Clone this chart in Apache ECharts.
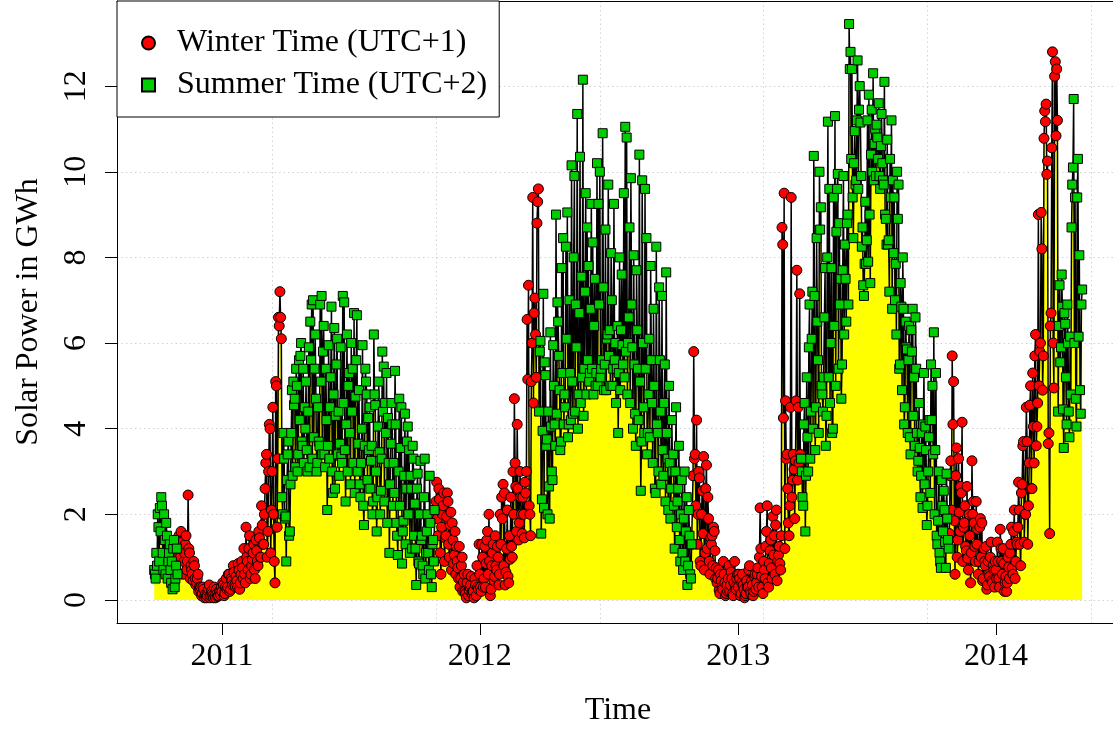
<!DOCTYPE html>
<html>
<head>
<meta charset="utf-8">
<script src="https://cdn.jsdelivr.net/npm/echarts@6/dist/echarts.min.js"></script>
<style>html,body{margin:0;padding:0;background:#fff}#chart{width:1113px;height:729px}</style>
</head>
<body>
<div id="chart"></div>
<script>
// ---- DATA: daily solar power in GWh, grouped by clock-time period ----
// "a" arrays hold days 0,2,4,... of each period, "b" arrays hold days 1,3,5,...
const seasonStart = ['2010-09-27','2010-10-31','2011-03-27','2011-10-30','2012-03-25','2012-10-28','2013-03-31','2013-10-27','2014-03-30'];
const seasonKind  = ['summer','winter','summer','winter','summer','winter','summer','winter','summer'];

const summer2010a = [0.7,0.5,0.8,1.7,2.15,2.4,1.1,2.0,0.6,1.5,0.9,1.3,0.4,0.25,1.4,0.5,1.2];
const summer2010b = [0.6,1.1,2.0,0.9,1.6,2.2,0.7,1.4,1.8,0.5,1.1,0.7,0.9,1.2,0.3,0.8,0.6];
const winter2010a = [1.0,
  1.4,1.6,1.2,0.9,1.3,0.7,2.45,1.1,0.8,0.6,0.9,0.5,0.4,0.6,0.3,
  0.3,0.15,0.25,0.1,0.05,0.2,0.35,0.1,0.15,0.05,0.1,0.25,0.08,0.2,0.12,
  0.2,0.35,0.15,0.5,0.3,0.6,0.25,0.45,0.8,0.35,0.55,0.3,0.7,0.4,0.9,0.5,
  0.6,1.7,0.9,1.2,0.5,0.8,1.1,0.7,1.4,0.9,1.6,1.0,2.2,1.3,
  2.0,3.2,1.0,3.0,4.0,2.1,4.5,0.9,5.1,1.7,6.6,7.2,6.1];
const winter2010b = [
  1.5,1.0,1.35,0.6,1.1,1.5,0.9,1.2,0.5,0.7,0.45,0.8,0.35,0.5,0.2,
  0.25,0.1,0.3,0.05,0.15,0.1,0.25,0.05,0.2,0.1,0.3,0.05,0.15,0.1,0.2,0.3,
  0.4,0.1,0.3,0.25,0.6,0.2,0.5,0.35,0.65,0.3,0.45,0.85,0.25,0.6,0.75,
  1.2,0.4,1.0,0.7,1.5,0.6,0.95,1.3,0.5,1.15,0.8,1.45,1.0,1.75,
  1.3,2.6,3.4,1.6,4.1,1.1,3.0,2.0,0.4,5.0,3.3,6.4,6.6];
const summer2011a = [2.4,3.9,1.9,
  0.9,3.4,1.5,2.7,4.9,5.1,4.7,5.4,3.0,5.6,5.7,3.7,5.4,4.5,5.1,
  3.0,5.9,6.5,6.9,7.0,5.4,4.7,3.2,3.7,6.9,7.1,5.8,3.4,5.4,2.1,
  5.95,4.5,6.85,2.5,6.35,4.3,6.1,4.4,3.65,3.35,7.1,6.95,2.3,6.2,5.0,
  3.9,6.0,5.4,6.7,4.75,6.65,3.65,2.7,3.2,5.95,1.75,5.4,4.8,4.25,4.5,3.25,
  2.0,6.2,4.55,1.6,4.05,3.45,2.55,5.8,5.45,4.6,5.3,4.25,1.1,3.65,4.1,
  3.2,5.35,1.8,1.05,4.7,3.55,0.85,1.85,4.35,2.6,4.05,3.5,2.9,1.2,3.3,
  2.25,0.35,2.95,0.85,3.25,1.5,0.6,3.3,1.1,2.0,0.7,1.8,0.3,1.4,2.1];
const summer2011b = [2.0,3.3,
  1.95,2.8,3.7,1.6,3.9,2.9,4.55,3.1,5.0,3.4,4.2,6.0,3.6,3.2,4.0,
  3.5,4.4,3.1,5.6,3.3,3.8,6.2,3.0,4.5,3.6,5.1,3.4,6.4,3.1,4.2,3.6,
  3.3,5.2,3.0,4.8,2.6,5.5,3.4,2.9,5.9,3.2,4.6,3.5,4.1,3.0,5.3,
  2.7,4.4,3.2,2.5,5.6,3.0,4.9,2.4,4.0,2.2,3.6,5.1,2.8,3.5,2.6,
  3.6,2.3,4.8,3.0,2.4,5.1,2.0,3.3,4.4,2.3,3.9,1.8,3.2,2.7,4.6,2.2,
  2.5,4.1,1.5,3.0,2.2,4.5,1.6,2.9,1.3,3.7,2.0,1.1,2.6,3.6,1.5,
  1.2,2.6,0.9,2.0,1.4,0.8,2.4,0.5,1.6,1.1,2.9,0.6,1.3,0.9];
const winter2011a = [1.9,
  2.75,1.5,2.35,0.6,2.0,2.5,1.45,1.95,2.3,1.0,2.05,1.8,0.85,1.6,1.25,
  0.75,1.25,0.5,1.0,0.42,0.2,0.05,0.6,0.23,0.35,0.15,0.2,0.5,0.1,0.3,1.3,
  0.3,1.3,0.3,1.25,0.85,1.6,2.0,0.1,0.8,1.3,0.55,0.8,1.25,0.35,2.0,
  2.4,2.7,2.5,0.65,2.1,0.4,0.95,1.25,3.0,4.7,2.65,4.1,1.4,3.0,2.0,
  2.4,1.45,2.5,6.55,7.35,2.0,5.1,9.4,6.7,6.2,8.8,9.6];
const winter2011b = [2.3,
  1.9,2.6,1.1,1.7,2.2,0.9,1.5,2.5,1.3,1.75,0.7,1.4,1.05,0.6,0.9,
  0.5,0.3,0.8,0.2,0.6,0.15,0.4,0.1,0.3,0.55,0.2,0.05,0.35,0.8,0.25,
  0.6,0.2,1.0,0.5,0.3,1.4,0.6,0.9,0.25,1.1,0.45,1.5,0.7,1.0,0.6,1.3,
  1.9,0.8,0.35,1.2,0.55,1.5,2.4,1.0,2.0,3.2,1.6,2.6,1.8,2.4,
  1.55,2.0,2.75,3.0,5.15,2.2,1.5,6.0,4.6,7.05,5.2,9.3];
const summer2012a = [4.4,6.05,2.35,7.15,
  5.55,3.6,2.0,2.65,6.25,3.0,5.95,4.1,9.0,6.95,5.7,3.5,7.75,8.45,4.8,
  8.25,9.05,4.1,5.3,10.15,4.35,9.9,6.9,11.35,4.8,10.35,7.55,12.15,5.4,9.5,
  8.7,7.8,5.3,9.25,8.35,6.4,5.0,10.2,9.25,10.0,5.4,10.9,4.9,8.65,6.1,
  9.7,6.3,8.1,5.0,9.25,6.0,5.4,3.9,8.0,6.3,5.95,9.5,11.05,10.8,6.0,8.7,
  9.85,5.9,8.05,4.35,7.7,5.4,10.4,2.55,9.8,4.5,9.6,8.45,3.9,6.1,7.8,
  4.6,6.8,2.6,8.25,3.9,7.3,4.4,7.1,2.9,5.5,7.65,3.3,5.0,1.9,4.2,
  3.4,1.2,4.5,2.3,3.6,0.9,2.8,0.7,3.0,1.6,0.35,2.1,0.6,1.3];
const summer2012b = [5.8,1.55,3.95,
  2.15,5.25,3.75,4.4,1.9,4.05,2.8,5.0,3.6,4.35,6.5,4.9,3.7,5.3,4.1,
  4.5,6.1,3.8,7.0,4.2,5.1,8.0,4.4,5.9,4.0,6.7,4.6,5.2,4.3,7.2,4.8,
  5.6,5.1,6.8,5.4,4.8,7.5,5.3,5.0,6.9,5.2,5.6,7.3,5.5,4.9,6.2,
  5.7,5.0,7.0,5.4,5.6,4.6,6.4,5.3,4.9,7.6,5.5,5.2,5.8,4.8,6.6,
  4.6,6.9,4.0,5.5,3.6,6.3,4.2,5.1,3.7,6.0,3.9,5.4,3.4,4.8,3.8,5.6,
  3.2,5.0,2.5,4.1,3.0,5.6,2.7,3.5,4.6,2.3,3.9,2.1,3.2,2.6,3.0,
  2.2,3.0,1.7,2.6,1.4,2.0,1.1,1.9,0.9,2.4,0.8,1.5,0.5];
const winter2012a = [1.3,5.8,
  3.4,4.2,2.0,2.85,0.8,2.55,3.35,1.1,3.15,2.4,0.9,1.45,1.5,1.7,1.15,
  0.75,0.5,0.23,0.6,0.3,0.9,0.4,0.15,0.2,0.8,0.35,0.5,0.1,0.9,0.25,0.6,
  0.6,0.1,0.4,0.35,0.05,0.15,0.3,0.7,0.2,0.45,0.1,0.55,0.25,0.6,0.3,
  2.15,0.55,0.15,0.7,1.25,2.2,0.3,1.15,0.75,1.95,1.5,1.75,0.45,1.05,
  0.85,1.5,8.3,9.5,4.65,3.4,1.8,2.2,9.4,2.8,3.05,3.25,7.7,4.5,7.15];
const winter2012b = [2.9,3.3,
  2.2,1.3,3.0,0.9,2.0,1.55,0.7,2.6,1.2,1.9,0.6,1.3,0.8,1.6,0.5,
  0.4,0.7,0.15,0.45,0.25,0.6,0.1,0.35,0.5,0.2,0.65,0.15,0.4,0.3,0.5,
  0.3,0.5,0.15,0.6,0.25,0.1,0.45,0.3,0.8,0.15,0.35,0.2,0.6,0.4,0.75,1.0,
  1.2,0.3,0.9,0.5,1.6,0.4,0.85,1.4,0.5,1.05,0.6,2.1,0.9,1.25,
  0.7,8.7,4.25,1.2,3.3,2.6,1.5,4.5,2.4,3.4,1.9,4.65,2.8,3.2,3.4];
const summer2013a = [3.3,
  2.4,4.1,1.6,5.2,3.0,6.9,4.4,7.2,10.37,3.5,8.45,5.6,10.0,9.17,4.8,
  5.2,7.75,4.3,11.17,9.6,6.0,3.9,9.4,11.3,8.6,9.95,8.8,7.5,5.5,9.9,
  8.3,6.5,9.0,13.45,12.8,12.4,8.45,10.95,9.8,12.6,11.45,11.15,8.25,7.35,7.85,
  7.85,11.2,11.8,7.4,11.45,12.3,10.65,9.9,10.8,11.6,9.6,11.35,9.8,12.1,8.9,10.75,
  8.4,10.3,11.2,9.8,9.4,7.85,10.0,9.7,5.5,6.85,8.0,4.1,6.5,5.85,5.6,
  3.8,6.3,6.8,5.2,6.6,3.9,3.25,3.55,2.9,2.15,5.3,4.05,1.75,3.0,4.2,
  5.5,5.0,6.25,3.5,1.5,1.85,1.1,0.75,2.2,2.55,1.35,2.95,1.4];
const summer2013b = [
  3.0,2.2,4.6,2.9,3.8,5.9,3.3,6.1,4.0,7.1,4.5,6.5,3.9,8.65,5.0,
  4.4,6.6,3.6,8.0,5.2,4.6,7.75,4.0,6.4,5.0,9.6,5.4,6.9,4.7,7.7,6.2,
  7.5,8.8,6.9,12.4,10.3,9.4,10.2,9.7,11.2,9.6,12.0,9.9,8.7,7.1,9.3,
  8.4,7.9,9.0,10.4,10.0,9.8,11.0,11.1,10.3,9.9,10.6,10.2,9.7,9.0,8.3,
  8.3,7.2,9.4,6.8,8.1,7.0,6.2,8.9,5.4,7.4,4.9,6.8,4.5,5.9,3.9,6.4,
  3.4,5.8,4.3,3.6,5.4,3.0,4.6,2.4,3.9,4.1,2.7,3.5,2.2,3.8,2.5,
  4.2,3.4,2.0,5.3,1.3,3.0,0.9,2.8,1.6,2.1,0.75,1.9,1.2];
const winter2013a = [1.55,3.25,5.7,
  5.1,0.6,3.55,1.4,2.05,2.65,4.15,1.7,2.2,1.15,0.97,2.0,0.4,3.25,2.3,
  1.25,2.3,1.65,0.9,1.9,1.8,0.5,0.9,1.25,0.35,0.6,1.0,0.45,0.8,0.3,
  0.7,1.35,0.5,1.65,0.9,1.2,0.2,0.55,0.4,0.77,1.1,1.7,0.6,2.1,0.9,1.3,
  2.75,1.3,2.5,3.6,1.35,2.0,3.7,2.2,4.55,2.6,5.3,3.2,6.2,4.05,
  9.0,5.8,9.05,4.9,10.78,11.17,9.94,3.65,1.55,6.7,12.8,4.95,12.57,12.4];
const winter2013b = [2.9,2.1,
  4.1,1.85,2.9,1.0,3.3,1.6,2.5,0.9,1.8,1.25,2.65,0.7,1.5,1.1,2.0,
  1.8,0.9,1.3,0.6,1.7,1.0,0.45,1.2,0.8,0.25,0.9,0.55,1.35,0.4,0.7,0.9,
  0.5,0.9,0.3,1.2,0.6,0.85,0.4,0.2,1.0,0.5,1.3,0.75,1.6,0.5,1.35,
  1.7,2.1,0.8,2.7,3.7,2.0,4.5,1.3,3.2,5.0,2.6,4.05,5.7,3.6,
  4.6,5.0,6.0,8.2,5.7,11.42,11.58,10.25,3.9,6.4,10.56,6.0,12.23,10.84,11.2];
const summer2014a = [4.4,7.35,5.9,6.85,3.55,6.45,4.1,6.0,3.8,4.8,9.7,11.7,9.4,4.05,10.3,8.05,4.35,7.25];
const summer2014b = [6.4,5.55,7.6,4.45,6.7,5.2,6.9,4.4,6.15,8.7,10.1,6.0,4.7,9.4,6.15,4.9,6.9];

const seasonEven = [summer2010a,winter2010a,summer2011a,winter2011a,summer2012a,winter2012a,summer2013a,winter2013a,summer2014a];
const seasonOdd  = [summer2010b,winter2010b,summer2011b,winter2011b,summer2012b,winter2012b,summer2013b,winter2013b,summer2014b];
const axisYears = [2011, 2012, 2013, 2014];
const yTickValues = [0, 2, 4, 6, 8, 10, 12];
const seriesNames = {winter: 'Winter Time (UTC+1)', summer: 'Summer Time (UTC+2)'};

// ---- build ----
const DAY = 86400000, ORIGIN = Date.UTC(2011, 0, 1);
function dayNum(y, m, d) { return Math.round((Date.UTC(y, m - 1, d) - ORIGIN) / DAY); }
function isoDay(s) { const p = s.split('-').map(Number); return dayNum(p[0], p[1], p[2]); }
const linePts = [], winterPts = [], summerPts = [];
seasonStart.forEach((st, k) => {
  const d0 = isoDay(st);
  const pts = [];
  seasonEven[k].forEach((v, i) => pts.push([d0 + 2 * i, v]));
  seasonOdd[k].forEach((v, i) => pts.push([d0 + 2 * i + 1, v]));
  pts.sort((a, b) => a[0] - b[0]);
  pts.forEach(pt => {
    linePts.push(pt);
    (seasonKind[k] === 'winter' ? winterPts : summerPts).push(pt);
  });
});
const yearDays = axisYears.map(y => dayNum(y, 1, 1));
const vGridDays = [71, 303, 535, 767, 999, 1231];

const FONT = 'Liberation Serif';
const X_MIN = -148.7, X_MAX = 1261.7;
const chart = echarts.init(document.getElementById('chart'), null, {renderer: 'canvas'});
const dotted = {color: '#d3d3d3', width: 1, type: [1.5, 3]};
chart.setOption({
  animation: false,
  backgroundColor: '#fff',
  grid: {left: 117, top: 1, right: 0, bottom: 106, show: false, containLabel: false, outerBoundsMode: 'none'},
  legend: {
    data: [{name: seriesNames.winter, icon: 'circle'}, {name: seriesNames.summer, icon: 'rect'}],
    orient: 'vertical', left: 117, top: 1,
    itemWidth: 13, itemHeight: 13, itemGap: 10,
    padding: [26, 12, 16, 24],
    backgroundColor: '#fff', borderColor: '#000', borderWidth: 1, borderRadius: 0,
    textStyle: {fontSize: 32, fontFamily: FONT, color: '#000', padding: [0, 0, 0, 17], lineHeight: 30},
    selectedMode: false, z: 10
  },
  xAxis: [{
    type: 'value', min: X_MIN, max: X_MAX, position: 'bottom',
    axisLine: {show: true, onZero: false, lineStyle: {color: '#000', width: 1}},
    axisTick: {show: true, length: 12, lineStyle: {color: '#000', width: 1}, customValues: yearDays},
    axisLabel: {customValues: yearDays, formatter: v => { const i = yearDays.indexOf(v); return i >= 0 ? String(axisYears[i]) : ''; },
      fontSize: 32, fontFamily: FONT, color: '#000', margin: 18},
    splitLine: {show: false},
    name: 'Time', nameLocation: 'middle', nameGap: 72,
    nameTextStyle: {fontSize: 32, fontFamily: FONT, color: '#000', padding: [0, 0, 0, 6]}
  }, {
    type: 'value', min: X_MIN, max: X_MAX, position: 'top',
    axisLine: {show: true, onZero: false, lineStyle: {color: '#000', width: 1}},
    axisTick: {show: false, customValues: vGridDays},
    axisLabel: {show: false, customValues: vGridDays},
    splitLine: {show: true, lineStyle: dotted}
  }],
  yAxis: {
    type: 'value', min: -0.538, max: 13.988,
    axisLine: {show: true, onZero: false, lineStyle: {color: '#000', width: 1}},
    axisTick: {show: true, length: 12, lineStyle: {color: '#000', width: 1}, customValues: yTickValues},
    axisLabel: {customValues: yTickValues, rotate: 90, fontSize: 32, fontFamily: FONT, color: '#000', margin: 24},
    splitLine: {show: true, lineStyle: dotted},
    name: 'Solar Power in GWh', nameLocation: 'middle', nameGap: 72, nameRotate: 90,
    nameTextStyle: {fontSize: 32, fontFamily: FONT, color: '#000'}
  },
  series: [{
    type: 'line', name: 'area', data: linePts, xAxisIndex: 0,
    symbol: 'none', showSymbol: false, silent: true,
    lineStyle: {color: '#000', width: 1.5},
    areaStyle: {color: '#ffff00', opacity: 1, origin: 'auto'},
    z: 2
  }, {
    type: 'scatter', name: seriesNames.winter, data: winterPts, xAxisIndex: 0,
    symbol: 'circle', symbolSize: 10,
    itemStyle: {color: '#ff0000', borderColor: '#000', borderWidth: 1, opacity: 1},
    z: 3
  }, {
    type: 'scatter', name: seriesNames.summer, data: summerPts, xAxisIndex: 0,
    symbol: 'rect', symbolSize: 9,
    itemStyle: {color: '#00cd00', borderColor: '#000', borderWidth: 1, opacity: 1},
    z: 3
  }]
});
</script>
</body>
</html>
